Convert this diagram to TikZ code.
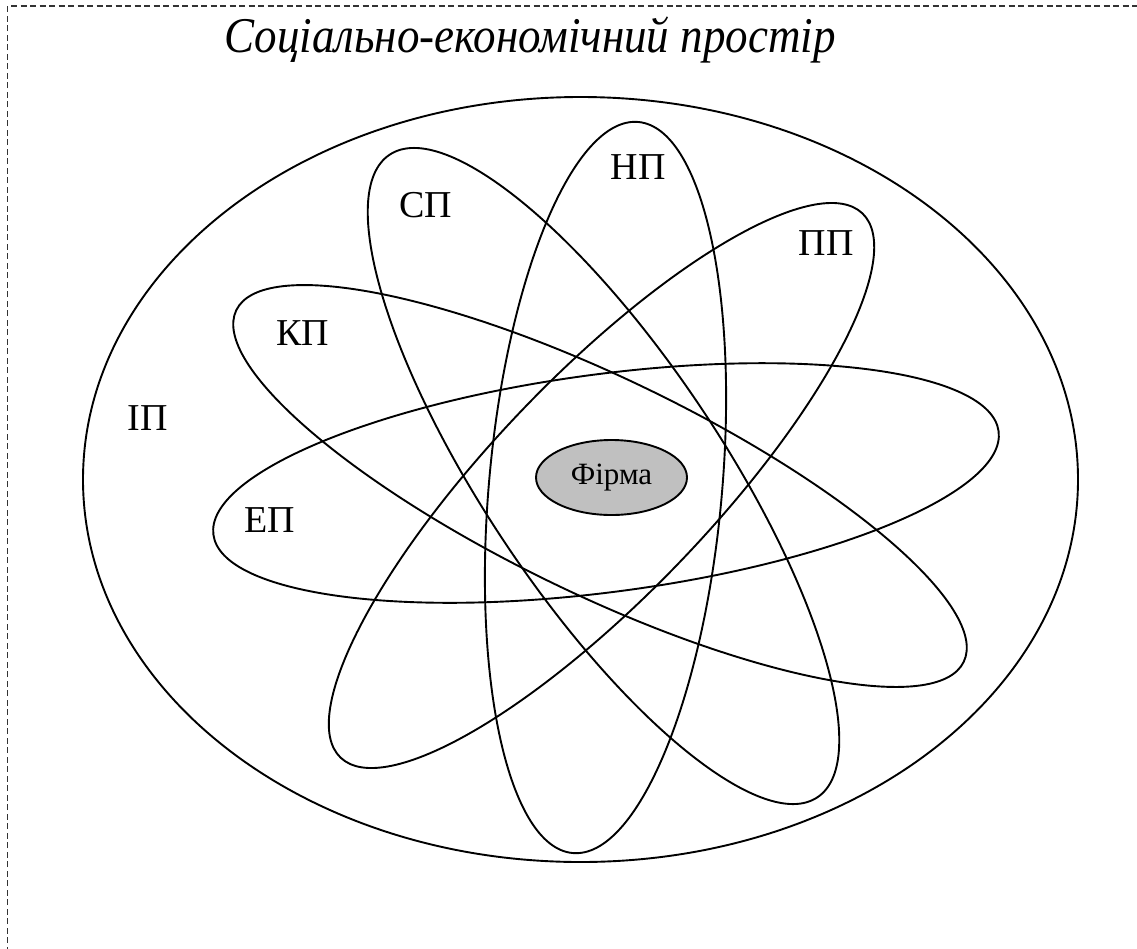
\documentclass[tikz,border=0pt]{standalone}
\usepackage{fontspec}
\setmainfont{Liberation Serif}
\newfontfamily\titlefont[FakeStretch=0.9]{Liberation Serif}
\usetikzlibrary{shapes.geometric}
\begin{document}
\begin{tikzpicture}[x=1pt,y=1pt,
  orbit/.style={ellipse, draw, line width=1.9pt, inner sep=0pt, outer sep=0pt},
  lbl/.style={font=\fontsize{38}{45}\selectfont, inner sep=0pt},
]
\useasboundingbox (0,0) rectangle (1137,-948);
% dashed frame, only its top and left edges fall inside the page
\begin{scope}
  \clip (0,0) rectangle (1137,-948);
  \draw[line width=1.1pt, dash pattern=on 6pt off 3.5pt, black!80] (7.5,-1000) -- (7.5,-6) -- (1200,-6);
\end{scope}
\node[font=\titlefont\itshape\fontsize{50}{58}\selectfont, inner sep=0pt] (title) at (530,-40) {Соціально-економічний простір};
% the whole space
\node[orbit, minimum width=995pt, minimum height=765pt] (space) at (580.5,-479.5) {};
% the spheres around the firm
\node[orbit, minimum width=792pt, minimum height=218pt, rotate=7.5] (ep) at (606,-483) {};
\node[orbit, minimum width=808pt, minimum height=216pt, rotate=-25.8] (kp) at (600,-486) {};
\node[orbit, minimum width=772pt, minimum height=238pt, rotate=-56.35] (sp) at (603.5,-476) {};
\node[orbit, minimum width=734pt, minimum height=233pt, rotate=84.87] (np) at (605.5,-487.5) {};
\node[orbit, minimum width=754pt, minimum height=219pt, rotate=46.2] (pp) at (601.5,-485.5) {};
% the firm
\node[orbit, fill={rgb,255:red,192;green,192;blue,192}, minimum width=151pt, minimum height=75pt,
      font=\fontsize{31}{36}\selectfont] (firm) at (611.5,-477.5) {Фірма};
% labels
\node[lbl] (lsp) at (426,-205) {СП};
\node[lbl] (lnp) at (638,-167) {НП};
\node[lbl] (lpp) at (826,-243) {ПП};
\node[lbl] (lkp) at (303,-333) {КП};
\node[lbl] (lep) at (270,-520) {ЕП};
\node[lbl] (lip) at (148,-418) {ІП};
\end{tikzpicture}
\end{document}
